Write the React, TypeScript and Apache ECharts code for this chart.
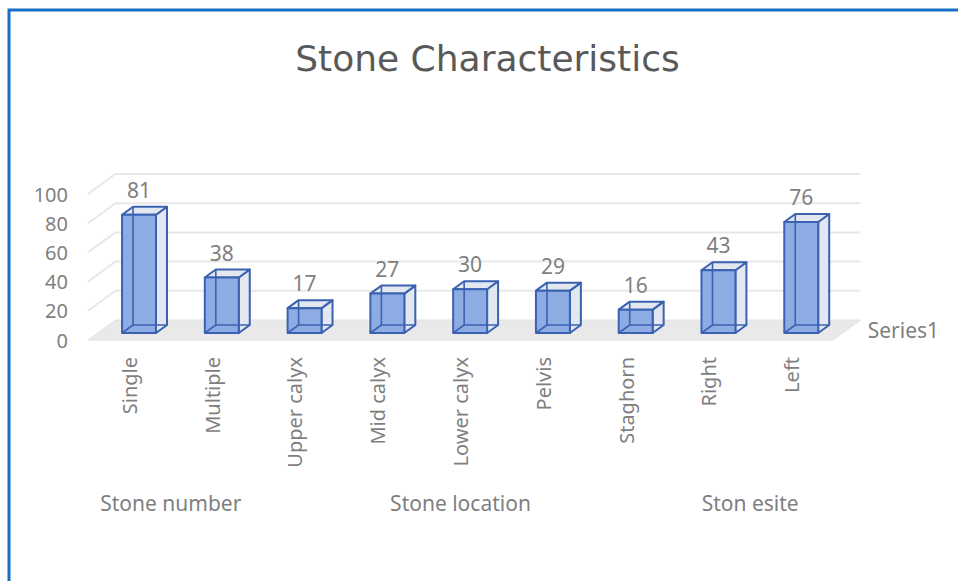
import React, { useEffect, useRef } from 'react';
import * as echarts from 'echarts';

const categories = ['Single', 'Multiple', 'Upper calyx', 'Mid calyx', 'Lower calyx', 'Pelvis', 'Staghorn', 'Right', 'Left'];
const values = [81, 38, 17, 27, 30, 29, 16, 43, 76];
const yTicks = [0, 20, 40, 60, 80, 100];
const groupNames = ['Stone number', 'Stone location', 'Ston esite'];
const groupStarts = [0, 2, 7];
const groupEnds = [1, 6, 8];
const seriesName = 'Series1';
const titleText = 'Stone Characteristics';

export default function App() {
  const ref = useRef<HTMLDivElement>(null);
  useEffect(() => {
    const chart = echarts.init(ref.current as HTMLDivElement, null, { renderer: 'svg' });
    const FONT_FAMILY = '"Noto Sans", sans-serif';
    const LABEL = '#7F7F7F';
    const DX = 27.5;
    const DY = -20;
    const D0 = 0.35;
    const D1 = 0.75;
    const EDGE = '#3A62B0';
    const FRONT = '#8EACE4';
    const SIDE = '#E3E7EF';

    const option: any = {
      animation: false,
      backgroundColor: '#ffffff',
      grid: { left: 88, top: 194, width: 745, height: 146 },
      xAxis: {
        type: 'category',
        data: categories,
        axisLine: { show: false },
        axisTick: { show: false },
        splitLine: { show: false },
        axisLabel: { rotate: 90, margin: 17, color: LABEL, fontSize: 20, fontFamily: FONT_FAMILY, interval: 0 },
      },
      yAxis: {
        type: 'value',
        min: 0,
        max: 100,
        interval: 20,
        axisLine: { show: false },
        axisTick: { show: false },
        splitLine: { show: false },
        axisLabel: { margin: 20, color: LABEL, fontSize: 20, fontFamily: FONT_FAMILY },
      },
      graphic: [
        {
          type: 'rect',
          silent: true,
          shape: { x: 9, y: 10, width: 1000, height: 1000 },
          style: { fill: 'none', stroke: '#1570C6', lineWidth: 3 },
        },
        {
          type: 'text',
          x: 487.5,
          y: 58,
          style: {
            text: titleText,
            font: '36px "DejaVu Sans", sans-serif',
            fill: '#595959',
            align: 'center',
            verticalAlign: 'middle',
            textAlign: 'center',
            textVerticalAlign: 'middle',
          },
        },
      ],
      series: [
        {
          type: 'custom',
          name: 'walls',
          silent: true,
          data: yTicks.map((t) => [0, t]),
          renderItem: (params: any, api: any) => {
            const cs = params.coordSys;
            const v = api.value(1);
            const y = api.coord([0, v])[1];
            const x0 = cs.x;
            const x1 = cs.x + cs.width;
            const children: any[] = [];
            if (v === 0) {
              children.push({
                type: 'polygon',
                shape: { points: [[x0, y], [x0 + DX, y + DY], [x1 + DX, y + DY], [x1, y]] },
                style: { fill: '#E9E9E9', stroke: '#E2E2E2', lineWidth: 1 },
              });
              children.push({
                type: 'text',
                style: {
                  text: seriesName,
                  x: x1 + DX / 2 + 21,
                  y: y + DY / 2,
                  font: '21px ' + FONT_FAMILY,
                  fill: LABEL,
                  align: 'left',
                  verticalAlign: 'middle',
                  textAlign: 'left',
                  textVerticalAlign: 'middle',
                },
              });
            } else {
              children.push({
                type: 'polyline',
                shape: { points: [[x0, y], [x0 + DX, y + DY], [x1 + DX, y + DY]] },
                style: { fill: 'none', stroke: '#E8E8E8', lineWidth: 2 },
              });
            }
            return { type: 'group', children };
          },
        },
        {
          type: 'custom',
          name: seriesName,
          data: values.map((v, i) => [i, v]),
          renderItem: (params: any, api: any) => {
            const i = api.value(0);
            const v = api.value(1);
            const base = api.coord([i, 0]);
            const cx = base[0];
            const yb = base[1];
            const yt = api.coord([i, v])[1];
            const band = api.size([1, 0])[0];
            const w = band * 0.41;
            const ox = DX * D0;
            const oy = DY * D0;
            const bx = DX * (D1 - D0);
            const by = DY * (D1 - D0);
            const fl = cx - w / 2 + ox;
            const fr = cx + w / 2 + ox;
            const fb = yb + oy;
            const ft = yt + oy;
            const edge = { stroke: EDGE, lineWidth: 2, lineJoin: 'round' };
            return {
              type: 'group',
              children: [
                {
                  type: 'polygon',
                  shape: { points: [[fr, fb], [fr + bx, fb + by], [fr + bx, ft + by], [fr, ft]] },
                  style: { fill: SIDE, ...edge },
                },
                {
                  type: 'polygon',
                  shape: { points: [[fl, ft], [fr, ft], [fr + bx, ft + by], [fl + bx, ft + by]] },
                  style: { fill: SIDE, ...edge },
                },
                {
                  type: 'rect',
                  shape: { x: fl, y: ft, width: fr - fl, height: fb - ft },
                  style: { fill: FRONT, stroke: 'none' },
                },
                {
                  type: 'polyline',
                  shape: { points: [[fl, fb], [fl + bx, fb + by], [fl + bx, ft + by]] },
                  style: { fill: 'none', stroke: EDGE, lineWidth: 1.6 },
                },
                {
                  type: 'line',
                  shape: { x1: fl + bx, y1: fb + by, x2: fr + bx, y2: fb + by },
                  style: { fill: 'none', stroke: EDGE, lineWidth: 1.6 },
                },
                {
                  type: 'rect',
                  shape: { x: fl, y: ft, width: fr - fl, height: fb - ft },
                  style: { fill: 'none', ...edge },
                },
                {
                  type: 'text',
                  style: {
                    text: String(v),
                    x: (fl + fr) / 2,
                    y: ft - 25,
                    font: '21px ' + FONT_FAMILY,
                    fill: LABEL,
                    align: 'center',
                    verticalAlign: 'middle',
                    textAlign: 'center',
                    textVerticalAlign: 'middle',
                  },
                },
              ],
            };
          },
        },
        {
          type: 'custom',
          name: 'groups',
          silent: true,
          data: groupStarts.map((s, k) => [s, groupEnds[k]]),
          renderItem: (params: any, api: any) => {
            const cs = params.coordSys;
            const xa = api.coord([api.value(0), 0])[0];
            const xb = api.coord([api.value(1), 0])[0];
            return {
              type: 'text',
              style: {
                text: groupNames[params.dataIndex],
                x: (xa + xb) / 2,
                y: cs.y + cs.height + 163,
                font: '21px ' + FONT_FAMILY,
                fill: LABEL,
                align: 'center',
                verticalAlign: 'middle',
                textAlign: 'center',
                textVerticalAlign: 'middle',
              },
            };
          },
        },
      ],
    };
    chart.setOption(option);
    return () => chart.dispose();
  }, []);
  return <div ref={ref} style={{ position: 'fixed', left: 0, top: 0, width: 958, height: 581 }} />;
}
